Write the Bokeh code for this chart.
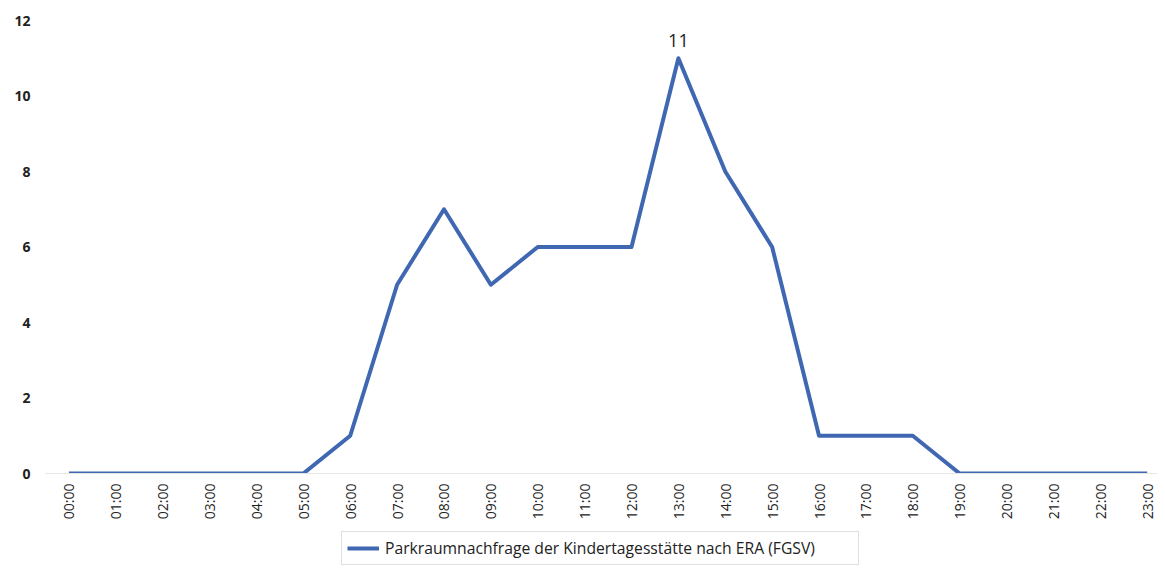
from bokeh.plotting import figure
from bokeh.models import Range1d, FixedTicker, Legend, LegendItem, ColumnDataSource
from bokeh.layouts import column
from bokeh.embed import file_html
from bokeh.resources import INLINE
from bokeh.core.properties import value
import math

hours = ["00:00", "01:00", "02:00", "03:00", "04:00", "05:00", "06:00", "07:00",
         "08:00", "09:00", "10:00", "11:00", "12:00", "13:00", "14:00", "15:00",
         "16:00", "17:00", "18:00", "19:00", "20:00", "21:00", "22:00", "23:00"]
demand = [0, 0, 0, 0, 0, 0, 1, 5, 7, 5, 6, 6, 6, 11, 8, 6, 1, 1, 1, 0, 0, 0, 0, 0]
series_name = "Parkraumnachfrage der Kindertagesstätte nach ERA (FGSV)"
peak_label = ["11"]

LINE_COLOR = "#4068B2"
xs = list(range(len(hours)))
src = ColumnDataSource(dict(x=xs, y=demand))

p = figure(width=1157, height=522, output_backend="svg", toolbar_location=None,
           x_range=Range1d(-0.5, 23.22), y_range=Range1d(0, 12),
           min_border_left=45, min_border_top=20, min_border_right=0)
p.outline_line_color = None
p.background_fill_color = "white"
p.border_fill_color = "white"
p.xgrid.grid_line_color = None
p.ygrid.grid_line_color = None

p.line("x", "y", source=src, line_color=LINE_COLOR, line_width=4, line_join="round")

pi = demand.index(max(demand))
p.text(x=[xs[pi]], y=[demand[pi]], text=peak_label, text_align="center", text_baseline="bottom",
       y_offset=-11, text_font=value("Open Sans"), text_font_size="18px", text_color="#222222")

p.yaxis.ticker = FixedTicker(ticks=[0, 2, 4, 6, 8, 10, 12])
p.yaxis.axis_line_color = None
p.yaxis.major_tick_line_color = None
p.yaxis.minor_tick_line_color = None
p.yaxis.major_tick_out = 0
p.yaxis.major_label_standoff = 15
p.yaxis.major_label_text_font = "Open Sans"
p.yaxis.major_label_text_font_size = "14px"
p.yaxis.major_label_text_font_style = "bold"
p.yaxis.major_label_text_color = "#222222"

p.xaxis.ticker = FixedTicker(ticks=xs)
p.xaxis.major_label_overrides = {i: h for i, h in enumerate(hours)}
p.xaxis.major_label_orientation = math.pi / 2
p.xaxis.axis_line_color = "#e6e6e6"
p.xaxis.major_tick_line_color = None
p.xaxis.minor_tick_line_color = None
p.xaxis.major_tick_out = 0
p.xaxis.major_label_standoff = 10
p.xaxis.major_label_text_font = "Open Sans"
p.xaxis.major_label_text_font_size = "14px"
p.xaxis.major_label_text_color = "#222222"

# legend strip below the chart (its own line renderer is kept outside the visible range)
p2 = figure(width=1157, height=46, output_backend="svg", toolbar_location=None,
            x_range=Range1d(-100, -99), y_range=Range1d(0, 1),
            x_axis_type=None, y_axis_type=None,
            min_border_left=0, min_border_right=0, min_border_top=0, min_border_bottom=0)
p2.outline_line_color = None
p2.xgrid.grid_line_color = None
p2.ygrid.grid_line_color = None
legend_line = p2.line("x", "y", source=src, line_color=LINE_COLOR, line_width=4)

legend = Legend(items=[LegendItem(label=series_name, renderers=[legend_line])],
                location=(296, 3), orientation="horizontal",
                border_line_color="#bfbfbf", border_line_width=1,
                label_text_font="Open Sans", label_text_font_size="15.7px",
                label_text_color="#222222", glyph_width=32, label_standoff=6,
                label_width=468, padding=5, margin=0, spacing=0)
p2.add_layout(legend)

layout = column(p, p2, spacing=0)
open("out.html", "w").write(file_html(layout, INLINE))
